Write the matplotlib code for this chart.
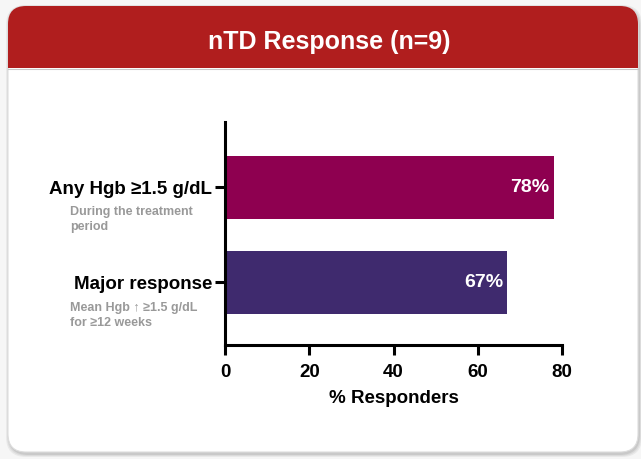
import matplotlib.pyplot as plt
from matplotlib.patches import FancyBboxPatch, Rectangle

plt.rcParams['font.family'] = ['Liberation Sans', 'DejaVu Sans']

# response categories, bottom to top
categories = ['Major response', 'Any Hgb \u22651.5 g/dL']
notes = ['Mean Hgb \u2191 \u22651.5 g/dL\nfor \u226512 weeks', 'During the treatment\nperiod']
responders = [67, 78]
bar_colors = ['#3f2a6e', '#8e0050']
xticks = [0, 20, 40, 60, 80]

W, H = 641, 459
fig = plt.figure(figsize=(W / 100, H / 100), dpi=100)
fig.patch.set_facecolor('#f6f6f6')

# background card drawn in pixel coordinates
bg = fig.add_axes([0, 0, 1, 1])
bg.set_xlim(0, W)
bg.set_ylim(H, 0)
bg.axis('off')
for i, a in enumerate([0.05, 0.06, 0.08]):
    d = 4 - i
    bg.add_patch(FancyBboxPatch((8 - d + 2, 6 - d + 3), 630 + 2 * d - 2, 446 + 2 * d - 2,
                                boxstyle='round,pad=0,rounding_size=20',
                                fc='black', ec='none', alpha=a))
card = FancyBboxPatch((8, 6), 630, 446, boxstyle='round,pad=0,rounding_size=18',
                      fc='white', ec='#dddddd', lw=0.8)
bg.add_patch(card)
header = Rectangle((8, 6), 630, 62, fc='#b01e1e', ec='none')
bg.add_patch(header)
header.set_clip_path(card)
bg.plot([8, 638], [68.5, 68.5], color='#c9c9c9', lw=0.8)
bg.text(329, 42, 'nTD Response (n=9)', color='white', fontsize=18, fontweight='bold',
        ha='center', va='center')

# sub-notes under category labels
for yc, note in zip([302, 206], notes):
    bg.text(70, yc, note, color='#999999', fontsize=9, fontweight='bold',
            ha='left', va='top', linespacing=1.3)

ax = fig.add_axes([225 / W, (H - 345) / H, (562 - 225) / W, (345 - 122) / H])
ax.set_facecolor('none')
ypos = list(range(len(categories)))
bars = ax.barh(ypos, responders, height=0.66, color=bar_colors)
for y, v in zip(ypos, responders):
    ax.text(v - 1, y, f'{v}%', color='white', fontsize=14, fontweight='bold',
            ha='right', va='center')

ax.set_xlim(0, 80)
ax.set_ylim(-0.66, 1.69)
ax.set_xticks(xticks)
ax.set_xticklabels([str(t) for t in xticks], fontsize=13.5, fontweight='bold')
ax.set_yticks(ypos)
ax.set_yticklabels(categories, fontsize=13.5, fontweight='bold')
ax.set_xlabel('% Responders', fontsize=13.5, fontweight='bold', labelpad=6)
ax.tick_params(axis='both', width=2.2, length=7, direction='out')
ax.tick_params(axis='x', pad=7)
ax.tick_params(axis='y', pad=2)
for s in ['top', 'right']:
    ax.spines[s].set_visible(False)
for s in ['left', 'bottom']:
    ax.spines[s].set_linewidth(2.2)

fig.savefig('out.png', dpi=100, facecolor=fig.get_facecolor())
